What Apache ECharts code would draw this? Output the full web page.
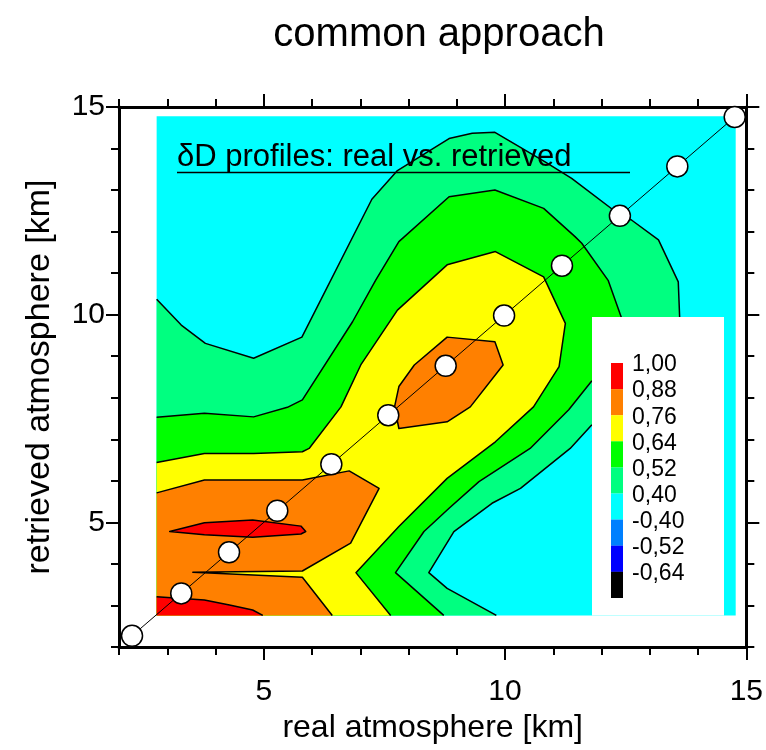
<!DOCTYPE html>
<html>
<head>
<meta charset="utf-8">
<script src="https://cdn.jsdelivr.net/npm/echarts@6/dist/echarts.min.js"></script>
<style>
  html, body { margin: 0; padding: 0; background: #ffffff; }
  #chart { width: 766px; height: 750px; }
</style>
</head>
<body>
<div id="chart"></div>
<script>
// Altitudes (km) of the profile grid points: real = retrieved along the diagonal
const profileLevels = [2.27, 3.29, 4.28, 5.28, 6.40, 7.58, 8.77, 9.98, 11.18, 12.38, 13.57, 14.76];

// Axis ticks (km)
const majorTicks = [5, 10, 15];
const minorTicks = [2, 3, 4, 6, 7, 8, 9, 11, 12, 13, 14];

// Extent of the averaging-kernel field (real km, retrieved km)
const fieldRangeX = [2.78, 14.78];
const fieldRangeY = [2.76, 14.78];

// Iso-lines of the kernel field, [real km, retrieved km]
// 0.40 level: upper branch (left edge -> legend) and lower branch (bottom -> legend)
const iso040Upper = [[2.78, 10.37], [3.29, 9.75], [3.79, 9.31], [4.79, 8.95], [5.79, 9.46], [7.24, 12.78],
  [7.77, 13.47], [8.84, 14.24], [9.32, 14.37], [9.79, 14.39], [10.83, 13.68], [11.38, 13.28],
  [12.38, 12.40], [12.62, 12.28], [13.18, 11.80], [13.59, 10.79], [13.62, 9.90]];
const iso040Lower = [[9.82, 2.76], [8.80, 3.41], [8.42, 3.79], [8.94, 4.78], [9.73, 5.46], [10.32, 5.82],
  [11.35, 6.78], [11.80, 7.35]];
// 0.52 level
const iso052Upper = [[2.78, 7.53], [3.77, 7.63], [4.79, 7.54], [5.49, 7.77], [5.80, 7.95], [6.84, 9.83],
  [7.32, 10.83], [7.80, 11.76], [8.84, 12.84], [9.79, 13.00], [10.80, 12.56], [11.45, 11.88],
  [11.59, 11.72], [12.14, 10.82], [12.42, 9.90]];
const iso052Lower = [[8.73, 2.76], [7.73, 3.79], [8.32, 4.78], [8.84, 5.34], [9.46, 5.98], [10.52, 6.78],
  [11.32, 7.71], [11.80, 8.41]];
// 0.64 level (left edge -> bottom edge)
const iso064 = [[2.78, 6.44], [3.77, 6.66], [4.79, 6.66], [5.80, 6.70], [5.94, 6.78], [6.60, 7.78],
  [7.01, 8.79], [7.77, 10.11], [8.80, 11.20], [9.80, 11.52], [10.80, 10.91], [11.25, 9.79],
  [11.12, 8.75], [10.59, 7.78], [9.80, 6.94], [8.80, 6.06], [7.80, 4.90], [6.91, 3.79], [7.63, 2.76]];
// 0.76 level: closed island around 8-9 km, and the low-altitude branch
const iso076Island = [[7.80, 7.26], [7.71, 7.78], [7.80, 8.27], [8.12, 8.79], [8.80, 9.46], [9.79, 9.35],
  [9.96, 8.79], [9.28, 7.78], [8.80, 7.42]];
const iso076Lower = [[2.78, 5.71], [3.77, 6.02], [5.80, 6.02], [6.77, 6.24], [7.39, 5.82], [6.80, 4.50],
  [5.80, 3.83], [3.53, 3.80], [5.80, 3.68], [6.42, 2.76]];
// 0.88 level: closed island near 5 km, and the corner branch
const iso088Island = [[3.05, 4.78], [3.77, 4.99], [4.77, 5.06], [5.77, 4.91], [5.87, 4.78], [5.77, 4.72],
  [4.77, 4.64], [3.77, 4.70]];
const iso088Lower = [[2.78, 3.21], [3.77, 3.13], [4.29, 3.01], [4.77, 2.89], [4.98, 2.76]];

// Colour scale
const legendLabels = ['1,00', '0,88', '0,76', '0,64', '0,52', '0,40', '-0,40', '-0,52', '-0,64'];
const legendColors = ['#ff0000', '#ff8000', '#ffff00', '#00ff00', '#00ff80', '#00ffff', '#0080ff', '#0000ff', '#000000'];

const FONT = "'Liberation Sans', Arial, Helvetica, sans-serif";

// Filled bands, painted from the lowest level upwards
const [fx0, fx1] = fieldRangeX;
const [fy0, fy1] = fieldRangeY;
const corner = [fx0, fy0];
const fillLayers = [
  { color: legendColors[5], pts: [[fx0, fy0], [fx1, fy0], [fx1, fy1], [fx0, fy1]] },
  { color: legendColors[4], pts: iso040Upper.concat(iso040Lower.slice().reverse(), [corner]) },
  { color: legendColors[3], pts: iso052Upper.concat(iso052Lower.slice().reverse(), [corner]) },
  { color: legendColors[2], pts: iso064.concat([corner]) },
  { color: legendColors[1], pts: iso076Island },
  { color: legendColors[1], pts: iso076Lower.concat([corner]) },
  { color: legendColors[0], pts: iso088Island },
  { color: legendColors[0], pts: iso088Lower.concat([corner]) }
];
const isoLines = [
  { pts: iso040Upper }, { pts: iso040Lower },
  { pts: iso052Upper }, { pts: iso052Lower },
  { pts: iso064 },
  { pts: iso076Island, closed: true }, { pts: iso076Lower },
  { pts: iso088Island, closed: true }, { pts: iso088Lower }
];

function makeAxis(position, opts) {
  return Object.assign({
    type: 'value',
    position: position,
    min: 2,
    max: 15,
    splitLine: { show: false },
    axisLine: { show: false, onZero: false, lineStyle: { color: '#000', width: 3 } },
    axisTick: { show: true, inside: false, length: 8, lineStyle: { color: '#000', width: 2 } },
    axisLabel: { show: false }
  }, opts);
}

const tickLabelStyle = { show: true, color: '#000', fontSize: 30, fontFamily: FONT };

const xAxes = [
  makeAxis('bottom', {
    axisLine: { show: true, onZero: false, lineStyle: { color: '#000', width: 3 } },
    axisTick: { show: true, length: 8, customValues: minorTicks, lineStyle: { color: '#000', width: 2 } },
    axisLabel: Object.assign({ customValues: majorTicks, margin: 30 }, tickLabelStyle),
    name: 'real atmosphere [km]', nameLocation: 'middle', nameGap: 65,
    nameTextStyle: { color: '#000', fontSize: 32, fontFamily: FONT }
  }),
  makeAxis('bottom', { axisTick: { show: true, length: 13, customValues: majorTicks, lineStyle: { color: '#000', width: 2 } } }),
  makeAxis('top', {
    axisLine: { show: true, onZero: false, lineStyle: { color: '#000', width: 3 } },
    axisTick: { show: true, length: 8, customValues: minorTicks, lineStyle: { color: '#000', width: 2 } }
  }),
  makeAxis('top', { axisTick: { show: true, length: 13, customValues: majorTicks, lineStyle: { color: '#000', width: 2 } } })
];
const yAxes = [
  makeAxis('left', {
    axisLine: { show: true, onZero: false, lineStyle: { color: '#000', width: 3 } },
    axisTick: { show: true, length: 8, customValues: minorTicks, lineStyle: { color: '#000', width: 2 } },
    axisLabel: Object.assign({ customValues: majorTicks, margin: 14 }, tickLabelStyle),
    name: 'retrieved atmosphere [km]', nameLocation: 'middle', nameGap: 62,
    nameTextStyle: { color: '#000', fontSize: 34, fontFamily: FONT }
  }),
  makeAxis('left', { axisTick: { show: true, length: 13, customValues: majorTicks, lineStyle: { color: '#000', width: 2 } } }),
  makeAxis('right', {
    axisLine: { show: true, onZero: false, lineStyle: { color: '#000', width: 3 } },
    axisTick: { show: true, length: 8, customValues: minorTicks, lineStyle: { color: '#000', width: 2 } }
  }),
  makeAxis('right', { axisTick: { show: true, length: 13, customValues: majorTicks, lineStyle: { color: '#000', width: 2 } } })
];

// Colour key drawn in a white panel inside the plot
const legendGraphics = [{ type: 'rect', z: 100, shape: { x: 592, y: 317, width: 132, height: 298.5 }, style: { fill: '#ffffff' } }];
legendColors.forEach((c, i) => {
  legendGraphics.push({ type: 'rect', z: 101, shape: { x: 611, y: 363 + i * 26.1, width: 12, height: 26.2 }, style: { fill: c } });
  legendGraphics.push({
    type: 'text', z: 101, x: 632, y: 365 + i * 26.1,
    style: { text: legendLabels[i], fill: '#000', font: '23px ' + FONT, verticalAlign: 'middle', align: 'left' }
  });
});

const chart = echarts.init(document.getElementById('chart'), null, { renderer: 'canvas' });
chart.setOption({
  animation: false,
  backgroundColor: '#ffffff',
  textStyle: { fontFamily: FONT },
  title: {
    text: 'common approach', left: 434, top: 10, textAlign: 'center',
    textStyle: { fontSize: 40, fontWeight: 'normal', color: '#000', fontFamily: FONT }
  },
  grid: { left: 119, right: 18, top: 107, bottom: 103, containLabel: false },
  xAxis: xAxes,
  yAxis: yAxes,
  graphic: legendGraphics.concat([
    {
      type: 'text', z: 100, x: 177, y: 157.5,
      style: { text: 'δD profiles: real vs. retrieved', fill: '#000', font: '31px ' + FONT, verticalAlign: 'middle', align: 'left' }
    },
    { type: 'line', z: 100, shape: { x1: 177, y1: 172.5, x2: 630, y2: 172.5 }, style: { stroke: '#000', lineWidth: 1.5 } }
  ]),
  series: [
    {
      type: 'custom',
      coordinateSystem: 'cartesian2d',
      xAxisIndex: 0, yAxisIndex: 0,
      silent: true, z: 2,
      data: fillLayers.map((f, i) => [f.pts[0][0], f.pts[0][1], i]),
      renderItem: (params, api) => {
        const layer = fillLayers[params.dataIndex];
        return {
          type: 'polygon',
          shape: { points: layer.pts.map(p => api.coord(p)) },
          style: { fill: layer.color }
        };
      }
    },
    {
      type: 'custom',
      coordinateSystem: 'cartesian2d',
      xAxisIndex: 0, yAxisIndex: 0,
      silent: true, z: 3,
      data: isoLines.map((l, i) => [l.pts[0][0], l.pts[0][1], i]),
      renderItem: (params, api) => {
        const line = isoLines[params.dataIndex];
        return {
          type: line.closed ? 'polygon' : 'polyline',
          shape: { points: line.pts.map(p => api.coord(p)) },
          style: { fill: 'none', stroke: '#000', lineWidth: 1.5, lineJoin: 'round' }
        };
      }
    },
    {
      type: 'line',
      xAxisIndex: 0, yAxisIndex: 0,
      z: 4, clip: false,
      data: profileLevels.map(v => [v, v]),
      symbol: 'circle',
      symbolSize: 21,
      lineStyle: { color: '#000', width: 1 },
      itemStyle: { color: '#ffffff', borderColor: '#000', borderWidth: 1.5 }
    }
  ]
});
</script>
</body>
</html>
